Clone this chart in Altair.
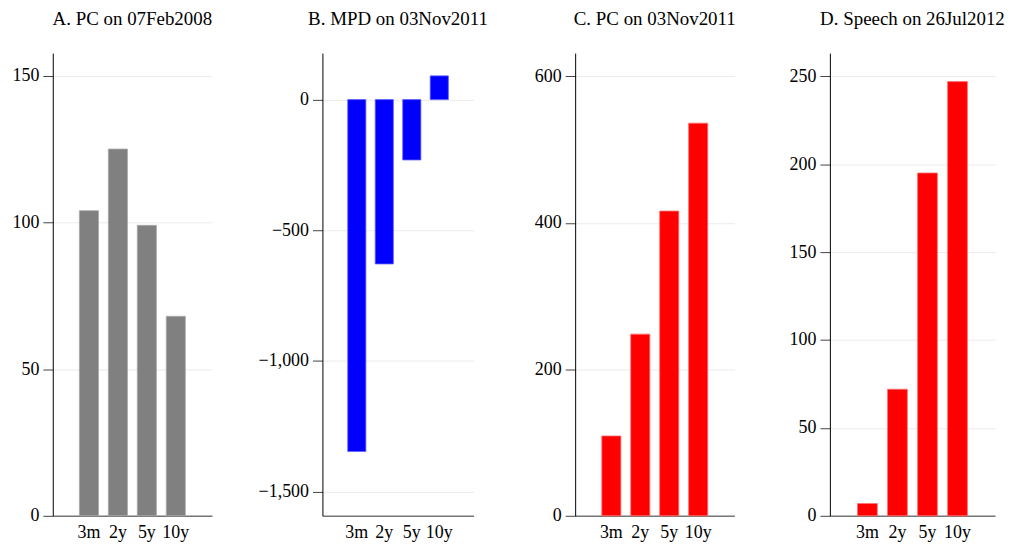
# %% Imports

import altair as alt
import pandas as pd

# %% Data

maturities = ["3m", "2y", "5y", "10y"]

pc_2008 = [104, 125, 99, 68]
mpd_2011 = [-1347, -629, -231, 91]
pc_2011 = [109, 248, 416, 536]
speech_2012 = [7, 72, 195, 247]

titles = [
    "A. PC on 07Feb2008",
    "B. MPD on 03Nov2011",
    "C. PC on 03Nov2011",
    "D. Speech on 26Jul2012",
]
y_domains = [[0, 157.7], [-1593, 178], [0, 631.6], [0, 263.2]]
y_ticks = [
    [0, 50, 100, 150],
    [-1500, -1000, -500, 0],
    [0, 200, 400, 600],
    [0, 50, 100, 150, 200, 250],
]

FONT = "Liberation Serif"


# %% Panels


def panel(values, title, color, edge, domain, ticks, width, extent):
    df = pd.DataFrame({"maturity": maturities, "value": values})
    return (
        alt.Chart(
            df,
            title=alt.TitleParams(
                title,
                font=FONT,
                fontSize=19,
                fontWeight="normal",
                color="black",
                anchor="middle",
                baseline="bottom",
                offset=5,
            ),
        )
        .mark_bar(fill=color, stroke=edge, strokeWidth=0.8)
        .encode(
            x=alt.X(
                "maturity:N",
                sort=maturities,
                title=None,
                scale=alt.Scale(paddingInner=0.34, paddingOuter=0.92),
                axis=alt.Axis(
                    labelAngle=0,
                    ticks=False,
                    grid=False,
                    domainColor="#767676",
                    domainWidth=1.6,
                    labelPadding=8,
                    labelOverlap=False,
                    labelFont=FONT,
                    labelFontSize=18,
                    labelColor="black",
                ),
            ),
            y=alt.Y(
                "value:Q",
                title=None,
                scale=alt.Scale(domain=domain, nice=False, zero=False),
                axis=alt.Axis(
                    values=ticks,
                    format=",.0f",
                    minExtent=extent,
                    domainColor="black",
                    domainWidth=1,
                    tickColor="#444444",
                    tickSize=10,
                    labelPadding=4,
                    labelFont=FONT,
                    labelFontSize=18,
                    labelColor="black",
                    grid=True,
                    gridColor="#ebebeb",
                ),
            ),
            y2=alt.datum(0),
        )
        .properties(width=width, height=465)
    )


a = panel(pc_2008, titles[0], "#808080", "#a8a8a8", y_domains[0], y_ticks[0], 160, 42)
b = panel(mpd_2011, titles[1], "#0000ff", "#6060ff", y_domains[1], y_ticks[1], 152, 90)
c = panel(pc_2011, titles[2], "#ff0000", "#ff7070", y_domains[2], y_ticks[2], 160, 67)
d = panel(speech_2012, titles[3], "#ff0000", "#ff7070", y_domains[3], y_ticks[3], 166, 74)

chart = (
    alt.hconcat(a, b, c, d, spacing=20)
    .properties(padding={"left": 3, "top": 1, "right": 0, "bottom": 2})
    .configure_view(stroke=None)
)

chart.save("out.html", embed_options={"renderer": "svg", "actions": False})
